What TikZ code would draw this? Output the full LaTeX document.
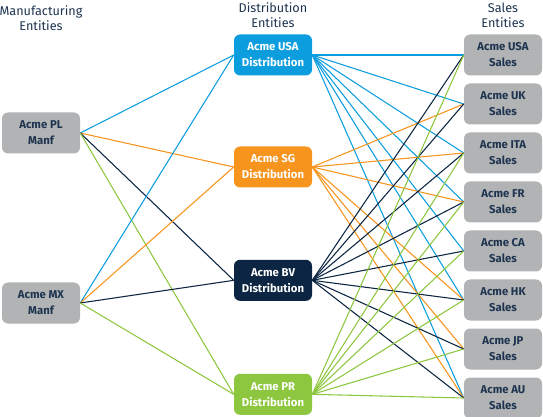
\documentclass[tikz,border=0pt]{standalone}
\usepackage{fontspec}
\setmainfont{Fira Sans}
\usetikzlibrary{positioning}
\definecolor{acmeblue}{RGB}{12,157,222}
\definecolor{acmeorange}{RGB}{247,148,30}
\definecolor{acmenavy}{RGB}{12,37,66}
\definecolor{acmegreen}{RGB}{141,198,63}
\definecolor{acmegray}{RGB}{177,179,180}
\definecolor{acmetext}{RGB}{30,52,80}
\tikzset{node distance=36.75pt, on grid,
entity/.style={rectangle, rounded corners=4.5pt, minimum width=58.5pt, minimum height=30.75pt, inner sep=0pt, align=center, font=\bfseries\fontsize{8.5}{12}\selectfont},
grayentity/.style={entity, fill=acmegray, text=acmetext},
dist/.style={entity, fill=#1, text=white},
heading/.style={align=center, text=acmetext, font=\fontsize{9.5}{11.5}\selectfont},
link/.style={draw=#1, line width=0.8pt}}

\begin{document}
\begin{tikzpicture}[x=0.75pt, y=-0.75pt]
    \useasboundingbox (0,0) rectangle (543,417);

    % Headings
    \node[heading] (hmanf) at (41,18) {Manufacturing\\Entities};
    \node[heading] (hdist) at (273,15) {Distribution\\Entities};
    \node[heading] (hsales) at (503,15) {Sales\\Entities};

    % Manufacturing
    \node[grayentity] (pl) at (41,133) {Acme PL\\Manf};
    \node[grayentity] (mx) at (41,303) {Acme MX\\Manf};

    % Distribution
    \node[dist=acmeblue] (usa) at (273,55) {Acme USA\\Distribution};
    \node[dist=acmeorange, below=84pt of usa] (sg) {Acme SG\\Distribution};
    \node[dist=acmenavy, below=85pt of sg] (bv) {Acme BV\\Distribution};
    \node[dist=acmegreen, below=85.5pt of bv] (pr) {Acme PR\\Distribution};

    % Sales
    \node[grayentity] (susa) at (503,55) {Acme USA\\Sales};
    \node[grayentity, below=of susa] (suk) {Acme UK\\Sales};
    \node[grayentity, below=of suk] (sita) {Acme ITA\\Sales};
    \node[grayentity, below=of sita] (sfr) {Acme FR\\Sales};
    \node[grayentity, below=of sfr] (sca) {Acme CA\\Sales};
    \node[grayentity, below=of sca] (shk) {Acme HK\\Sales};
    \node[grayentity, below=of shk] (sjp) {Acme JP\\Sales};
    \node[grayentity, below=of sjp] (sau) {Acme AU\\Sales};

    % Manufacturing to distribution
    \path (pl.east) edge[link=acmeblue] (usa.west)
          (pl.east) edge[link=acmeorange] (sg.west)
          (pl.east) edge[link=acmenavy] (bv.west)
          (pl.east) edge[link=acmegreen] (pr.west)
          (mx.east) edge[link=acmeblue] (usa.west)
          (mx.east) edge[link=acmeorange] (sg.west)
          (mx.east) edge[link=acmenavy] (bv.west)
          (mx.east) edge[link=acmegreen] (pr.west);

    % Distribution to sales
    \path (usa.east) edge[link=acmeblue] (susa.west)
          (usa.east) edge[link=acmeblue] (suk.west)
          (usa.east) edge[link=acmeblue] (sita.west)
          (usa.east) edge[link=acmeblue] (sfr.west)
          (usa.east) edge[link=acmeblue] (sca.west)
          (usa.east) edge[link=acmeblue] (shk.west)
          (usa.east) edge[link=acmeblue] (sau.west);
    \path (sg.east) edge[link=acmeorange] (suk.west)
          (sg.east) edge[link=acmeorange] (sita.west)
          (sg.east) edge[link=acmeorange] (sfr.west)
          (sg.east) edge[link=acmeorange] (shk.west)
          (sg.east) edge[link=acmeorange] (sjp.west)
          (sg.east) edge[link=acmeorange] (sau.west);
    \path (bv.east) edge[link=acmenavy] (susa.west)
          (bv.east) edge[link=acmenavy] (suk.west)
          (bv.east) edge[link=acmenavy] (sita.west)
          (bv.east) edge[link=acmenavy] (sfr.west)
          (bv.east) edge[link=acmenavy] (sca.west)
          (bv.east) edge[link=acmenavy] (shk.west)
          (bv.east) edge[link=acmenavy] (sjp.west)
          (bv.east) edge[link=acmenavy] (sau.west);
    \path (pr.east) edge[link=acmegreen] (susa.west)
          (pr.east) edge[link=acmegreen] (sita.west)
          (pr.east) edge[link=acmegreen] (sfr.west)
          (pr.east) edge[link=acmegreen] (sca.west)
          (pr.east) edge[link=acmegreen] (shk.west)
          (pr.east) edge[link=acmegreen] (sjp.west)
          (pr.east) edge[link=acmegreen] (sau.west);
\end{tikzpicture}
\end{document}
